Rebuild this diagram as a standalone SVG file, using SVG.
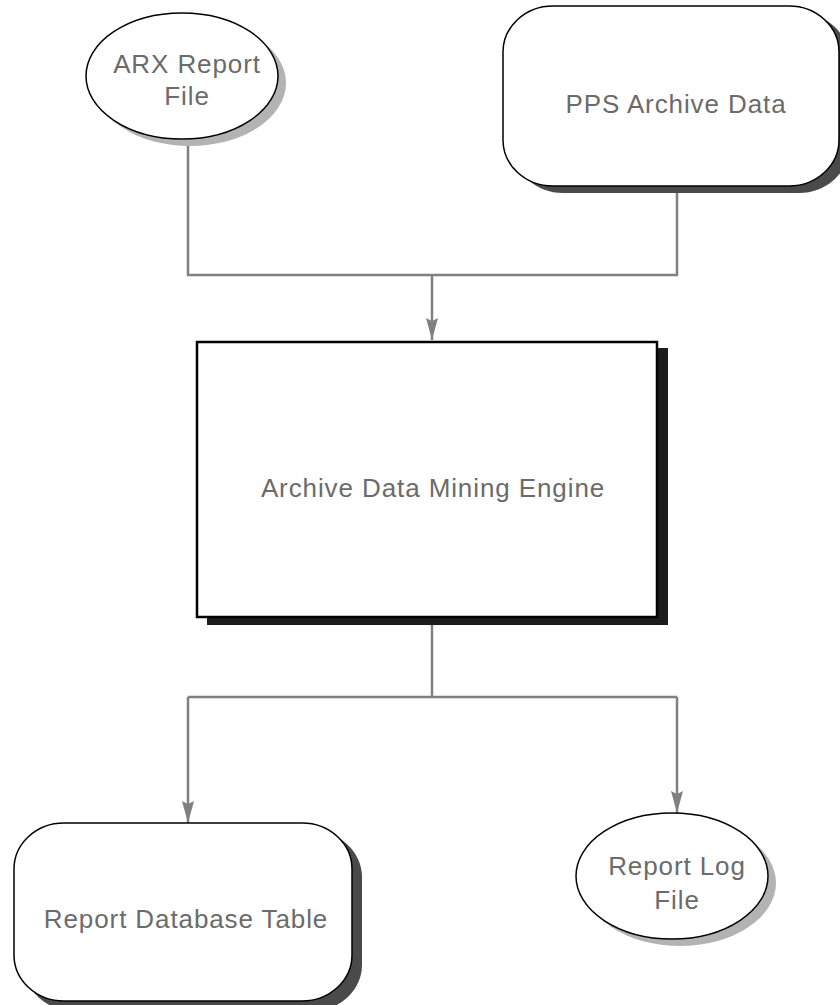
<svg xmlns="http://www.w3.org/2000/svg" width="840" height="1005" viewBox="0 0 840 1005">
<style>
.lbl{font-family:"Liberation Sans",Arial,sans-serif;font-size:26px;fill:#6b6b6b;text-anchor:middle;letter-spacing:0.9px}
.edge{fill:none;stroke:#808080;stroke-width:2.5}
.node{fill:#ffffff;stroke:#000000;stroke-width:1.5}
</style>
<defs>
<marker id="arr" markerUnits="userSpaceOnUse" markerWidth="22" markerHeight="12" viewBox="0 0 22 12" refX="22" refY="6" orient="auto">
<path d="M0,0 L22,6 L0,12 L3,6 z" fill="#808080"/>
</marker>
</defs>
<rect width="840" height="1005" fill="#ffffff"/>
<g id="connectors">
<path class="edge" d="M188 140 V275 H677 V193"/>
<path class="edge" d="M432 275 V340" marker-end="url(#arr)"/>
<path class="edge" d="M432 624 V697"/>
<path class="edge" d="M188 697 H677"/>
<path class="edge" d="M188 697 V823" marker-end="url(#arr)"/>
<path class="edge" d="M677 697 V813" marker-end="url(#arr)"/>
</g>
<g id="arx">
<ellipse cx="190" cy="83" rx="96" ry="63" fill="#b3b3b3"/>
<ellipse class="node" cx="182" cy="76" rx="96" ry="63"/>
<text class="lbl" x="187" y="73">ARX Report</text>
<text class="lbl" x="187" y="105">File</text>
</g>
<g id="pps">
<rect x="513" y="13" width="336" height="180" rx="50" ry="46" fill="#4a4a4a"/>
<rect class="node" x="503" y="6" width="336" height="180" rx="50" ry="46"/>
<text class="lbl" x="676" y="113">PPS Archive Data</text>
</g>
<g id="engine">
<rect x="207" y="348" width="461" height="277" fill="#1c1c1c"/>
<rect x="197" y="342" width="460" height="275" fill="#ffffff" stroke="#000000" stroke-width="2.5"/>
<text class="lbl" x="433" y="497">Archive Data Mining Engine</text>
</g>
<g id="dbtable">
<rect x="24" y="831" width="338" height="180" rx="50" ry="46" fill="#4a4a4a"/>
<rect class="node" x="14" y="823" width="338" height="178" rx="50" ry="46"/>
<text class="lbl" x="186" y="928">Report Database Table</text>
</g>
<g id="logfile">
<ellipse cx="680" cy="883" rx="96" ry="63" fill="#b3b3b3"/>
<ellipse class="node" cx="672" cy="876" rx="96" ry="63"/>
<text class="lbl" x="677" y="875">Report Log</text>
<text class="lbl" x="677" y="909">File</text>
</g>
</svg>
